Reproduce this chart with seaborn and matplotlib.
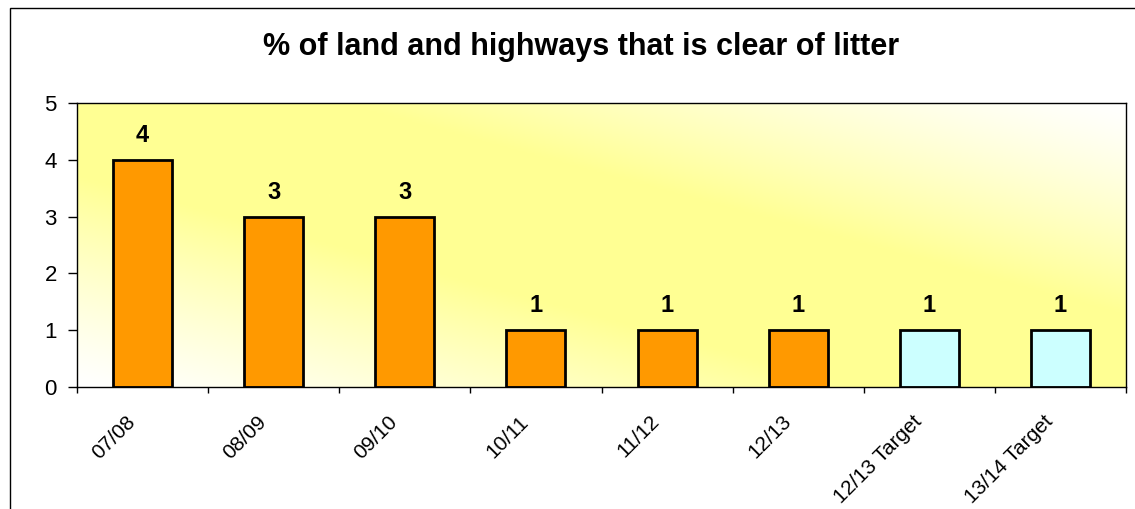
import numpy as np
import matplotlib
matplotlib.use("Agg")
import matplotlib.pyplot as plt
import matplotlib.transforms as mtransforms
import seaborn as sns
from matplotlib.patches import Rectangle

categories = ["07/08", "08/09", "09/10", "10/11", "11/12", "12/13", "12/13 Target", "13/14 Target"]
values = [4, 3, 3, 1, 1, 1, 1, 1]
bar_colors = ["#FF9900"] * 6 + ["#CCFFFF"] * 2
title = "% of land and highways that is clear of litter"

sns.set_theme(style="white")
plt.rcParams["font.family"] = ["Liberation Sans", "DejaVu Sans"]
plt.rcParams["text.color"] = "black"
plt.rcParams["xtick.color"] = "black"
plt.rcParams["ytick.color"] = "black"

fig = plt.figure(figsize=(11.35, 5.09), dpi=100)
W, H = 1135, 509
ax = fig.add_axes([77 / W, 1 - 387 / H, (1126 - 77) / W, (387 - 103) / H])

# diagonal gradient background: white (bottom-left) -> yellow (middle) -> white (top-right)
nx, ny = 300, 120
xx, yy = np.meshgrid(np.linspace(0, 1, nx), np.linspace(0, 1, ny))
s = (xx + yy) / 2.0
t = np.clip(1.35 * (1 - np.abs(2 * s - 1)), 0, 1) ** 1.2
white = np.array([1.0, 1.0, 1.0])
yellow = np.array([1.0, 1.0, 0.58])
img = white[None, None, :] * (1 - t[..., None]) + yellow[None, None, :] * t[..., None]
ax.imshow(img, extent=[0, 1, 0, 1], transform=ax.transAxes, origin="lower",
          aspect="auto", zorder=0)

sns.barplot(x=categories, y=values, hue=categories, palette=bar_colors, legend=False,
            saturation=1, width=0.45, edgecolor="black", linewidth=2, ax=ax, zorder=2)

ax.set_xlim(-0.5, len(categories) - 0.5)
ax.set_ylim(0, 5)
ax.set_yticks(range(0, 6))
ax.tick_params(axis="y", labelsize=16, length=6.5, width=1, direction="out", left=True, pad=8)
ax.set_xticks(np.arange(-0.5, len(categories) + 0.5, 1), minor=False)
ax.set_xticklabels([])
ax.set_xticks(range(len(categories)), minor=True)
ax.set_xticklabels(categories, minor=True, rotation=45, ha="right", va="top",
                   rotation_mode="anchor", fontsize=15)
ax.tick_params(axis="x", which="major", length=4.5, width=1, direction="out", bottom=True)
ax.tick_params(axis="x", which="minor", length=0, pad=18)
offset = mtransforms.ScaledTranslation(-17 / 100, 0, fig.dpi_scale_trans)
for lbl in ax.get_xticklabels(minor=True):
    lbl.set_transform(lbl.get_transform() + offset)
ax.set_xlabel("")
ax.set_ylabel("")
for s_ in ["left", "bottom", "top", "right"]:
    ax.spines[s_].set_visible(True)
    ax.spines[s_].set_color("black")
    ax.spines[s_].set_linewidth(1)

for i, v in enumerate(values):
    ax.text(i, v + 0.43, str(v), ha="center", va="center", fontsize=17,
            fontweight="bold", color="black", zorder=3)

fig.text(581 / W, 1 - 47 / H, title, ha="center", va="center", fontsize=22,
         fontweight="bold", color="black")

fig.patches.append(Rectangle((10 / W, -0.1), 1.2, 1 - 8 / H + 0.1, transform=fig.transFigure,
                             fill=False, edgecolor="black", linewidth=1))

fig.savefig("out.png", dpi=100)
